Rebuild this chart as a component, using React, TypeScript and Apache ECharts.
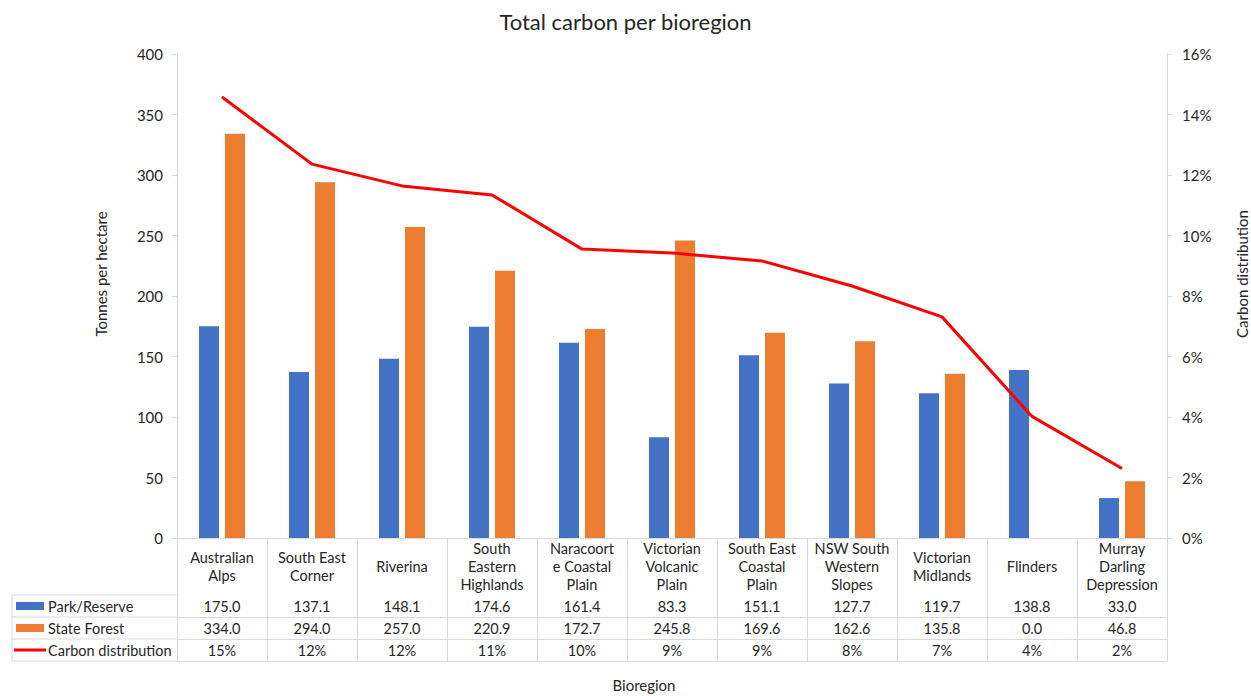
import React, { useEffect, useRef } from "react";
import * as echarts from "echarts";

const categories = [
  "Australian Alps",
  "South East Corner",
  "Riverina",
  "South Eastern Highlands",
  "Naracoorte Coastal Plain",
  "Victorian Volcanic Plain",
  "South East Coastal Plain",
  "NSW South Western Slopes",
  "Victorian Midlands",
  "Flinders",
  "Murray Darling Depression",
];
const categoryLabels = [
  "Australian\nAlps",
  "South East\nCorner",
  "Riverina",
  "South\nEastern\nHighlands",
  "Naracoort\ne Coastal\nPlain",
  "Victorian\nVolcanic\nPlain",
  "South East\nCoastal\nPlain",
  "NSW South\nWestern\nSlopes",
  "Victorian\nMidlands",
  "Flinders",
  "Murray\nDarling\nDepression",
];
const parkReserve = [175.0, 137.1, 148.1, 174.6, 161.4, 83.3, 151.1, 127.7, 119.7, 138.8, 33.0];
const stateForest = [334.0, 294.0, 257.0, 220.9, 172.7, 245.8, 169.6, 162.6, 135.8, 0.0, 46.8];
const carbonDistribution = [0.1458, 0.1236, 0.1164, 0.1134, 0.0955, 0.0942, 0.0916, 0.0833, 0.0731, 0.0402, 0.023];

const seriesNames = ["Park/Reserve", "State Forest", "Carbon distribution"];
const colors = ["#4472c4", "#ed7d31", "#ff0000"];

const FONT = "Lato, 'Open Sans', sans-serif";
const TEXT = "#262626";
const LINE = "#d9d9d9";
const FS = 14.5;

const GRID_LEFT = 177;
const GRID_RIGHT = 84;
const GRID_TOP = 54;
const GRID_BOTTOM = 158;
const LABEL_ROW = 57;
const ROW_H = 22;
const TABLE_LEFT = 12;

export default function App() {
  const ref = useRef<HTMLDivElement>(null);

  useEffect(() => {
    if (!ref.current) return;
    const chart = echarts.init(ref.current, null, { renderer: "svg" });
    const H = 696;
    const axisY = H - GRID_BOTTOM;

    const rowValues = [
      parkReserve.map((v) => v.toFixed(1)),
      stateForest.map((v) => v.toFixed(1)),
      carbonDistribution.map((v) => Math.round(v * 100) + "%"),
    ];

    const rowAxes = rowValues.map((vals, r) => ({
      type: "category",
      gridIndex: 0,
      position: "bottom",
      offset: LABEL_ROW + r * ROW_H,
      data: categories,
      axisLine: { show: true, lineStyle: { color: LINE, width: 1 } },
      axisTick: { show: false },
      axisLabel: {
        interval: 0,
        margin: ROW_H / 2,
        verticalAlign: "middle",
        fontFamily: FONT,
        fontSize: FS,
        color: TEXT,
        formatter: (_v: string, i: number) => vals[i],
      },
    }));

    const bottomAxis = {
      type: "category",
      gridIndex: 0,
      position: "bottom",
      offset: LABEL_ROW + 3 * ROW_H,
      data: categories,
      axisLine: { show: true, lineStyle: { color: LINE, width: 1 } },
      axisTick: { show: false },
      axisLabel: { show: false },
    };

    const graphics: any[] = [];
    const rowTop = axisY + LABEL_ROW;
    for (let r = 0; r <= 3; r++) {
      graphics.push({
        type: "line",
        shape: { x1: TABLE_LEFT, y1: rowTop + r * ROW_H, x2: GRID_LEFT, y2: rowTop + r * ROW_H },
        style: { stroke: LINE, lineWidth: 1 },
        silent: true,
      });
    }
    graphics.push({
      type: "line",
      shape: { x1: TABLE_LEFT, y1: rowTop, x2: TABLE_LEFT, y2: rowTop + 3 * ROW_H },
      style: { stroke: LINE, lineWidth: 1 },
      silent: true,
    });
    seriesNames.forEach((name, r) => {
      const cy = rowTop + r * ROW_H + ROW_H / 2;
      if (r < 2) {
        graphics.push({
          type: "rect",
          shape: { x: 16, y: cy - 4, width: 28, height: 8 },
          style: { fill: colors[r] },
          silent: true,
        });
      } else {
        graphics.push({
          type: "line",
          shape: { x1: 14, y1: cy, x2: 46, y2: cy },
          style: { stroke: colors[r], lineWidth: 3 },
          silent: true,
        });
      }
      graphics.push({
        type: "text",
        x: 48,
        y: cy,
        style: {
          text: name,
          fontFamily: FONT,
          fontSize: FS,
          fill: TEXT,
          textVerticalAlign: "middle",
          textAlign: "left",
        },
        silent: true,
      });
    });
    // axis titles
    graphics.push({
      type: "text",
      x: 101,
      y: 274,
      rotation: Math.PI / 2,
      style: {
        text: "Tonnes per hectare",
        fontFamily: FONT,
        fontSize: 15,
        fill: TEXT,
        textAlign: "center",
        textVerticalAlign: "middle",
      },
      silent: true,
    });
    graphics.push({
      type: "text",
      x: 1242,
      y: 274,
      rotation: Math.PI / 2,
      style: {
        text: "Carbon distribution",
        fontFamily: FONT,
        fontSize: 15,
        fill: TEXT,
        textAlign: "center",
        textVerticalAlign: "middle",
      },
      silent: true,
    });
    graphics.push({
      type: "text",
      x: 644,
      y: 685,
      style: {
        text: "Bioregion",
        fontFamily: FONT,
        fontSize: 15,
        fill: TEXT,
        textAlign: "center",
        textVerticalAlign: "middle",
      },
      silent: true,
    });

    const option: any = {
      animation: false,
      backgroundColor: "#ffffff",
      title: {
        text: "Total carbon per bioregion",
        left: "center",
        top: 10,
        padding: 0,
        textStyle: { fontFamily: FONT, fontSize: 22, fontWeight: "normal", color: TEXT },
      },
      grid: { left: GRID_LEFT, right: GRID_RIGHT, top: GRID_TOP, bottom: GRID_BOTTOM, containLabel: false },
      xAxis: [
        {
          type: "category",
          data: categories,
          position: "bottom",
          axisLine: { show: true, lineStyle: { color: LINE, width: 1 } },
          axisTick: { show: true, interval: 0, length: LABEL_ROW + 3 * ROW_H, lineStyle: { color: LINE } },
          axisLabel: {
            interval: 0,
            margin: LABEL_ROW / 2,
            verticalAlign: "middle",
            fontFamily: FONT,
            fontSize: FS,
            lineHeight: 18,
            color: TEXT,
            formatter: (_v: string, i: number) => categoryLabels[i],
          },
        },
        ...rowAxes,
        bottomAxis,
      ],
      yAxis: [
        {
          type: "value",
          min: 0,
          max: 400,
          interval: 50,
          axisLine: { show: true, lineStyle: { color: LINE } },
          axisTick: { show: true, length: 5, lineStyle: { color: LINE } },
          splitLine: { show: false },
          axisLabel: { margin: 14, fontFamily: FONT, fontSize: 15, color: TEXT },
        },
        {
          type: "value",
          min: 0,
          max: 0.16,
          interval: 0.02,
          position: "right",
          axisLine: { show: true, lineStyle: { color: LINE } },
          axisTick: { show: true, length: 5, lineStyle: { color: LINE } },
          splitLine: { show: false },
          axisLabel: {
            margin: 15,
            fontFamily: FONT,
            fontSize: 15,
            color: TEXT,
            formatter: (v: number) => Math.round(v * 100) + "%",
          },
        },
      ],
      series: [
        {
          name: seriesNames[0],
          type: "bar",
          xAxisIndex: 0,
          yAxisIndex: 0,
          data: parkReserve,
          barWidth: 20,
          barGap: "30%",
          itemStyle: { color: colors[0] },
        },
        {
          name: seriesNames[1],
          type: "bar",
          xAxisIndex: 0,
          yAxisIndex: 0,
          data: stateForest,
          barWidth: 20,
          barGap: "30%",
          itemStyle: { color: colors[1] },
        },
        {
          name: seriesNames[2],
          type: "line",
          xAxisIndex: 0,
          yAxisIndex: 1,
          data: carbonDistribution,
          showSymbol: false,
          symbol: "none",
          lineStyle: { color: colors[2], width: 3 },
          itemStyle: { color: colors[2] },
        },
      ],
      graphic: graphics,
    };

    chart.setOption(option);
    return () => chart.dispose();
  }, []);

  return (
    <div style={{ position: "absolute", left: 0, top: 0, width: 1251, height: 696 }}>
      <div ref={ref} style={{ width: 1251, height: 696 }} />
    </div>
  );
}
